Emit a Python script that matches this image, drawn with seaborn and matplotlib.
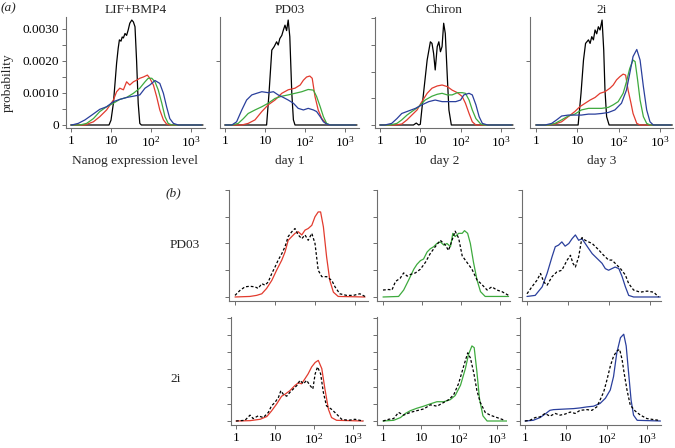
import numpy as np
import pandas as pd
import matplotlib
matplotlib.use("Agg")
import matplotlib.pyplot as plt
import seaborn as sns

# x values are log10(Nanog level), y values in units of 1e-3 (probability)

# ---- (a) LIF+BMP4
lif_black_x = [0, 0.95, 1.0, 1.06, 1.1, 1.14, 1.18, 1.21, 1.25, 1.28, 1.31, 1.35, 1.39, 1.43, 1.47, 1.52, 1.56, 1.6, 1.64, 1.68, 1.72, 1.76, 3.3]
lif_black_y = [0, 0, 0.15, 0.68, 1.3, 1.93, 2.4, 2.66, 2.62, 2.75, 2.72, 2.86, 2.8, 2.97, 3.18, 3.28, 3.22, 3.07, 2.0, 0.68, 0.05, 0, 0]
lif_red_x = [0, 0.35, 0.56, 0.72, 0.89, 1.06, 1.14, 1.22, 1.31, 1.39, 1.47, 1.56, 1.64, 1.72, 1.81, 1.91, 1.97, 2.06, 2.14, 2.22, 2.31, 2.39, 2.47, 3.27]
lif_red_y = [0, 0, 0.1, 0.26, 0.47, 0.78, 1.04, 1.15, 1.1, 1.35, 1.25, 1.35, 1.4, 1.46, 1.5, 1.56, 1.46, 1.25, 0.89, 0.47, 0.16, 0.03, 0, 0]
lif_green_x = [0, 0.22, 0.39, 0.56, 0.72, 0.89, 1.06, 1.22, 1.39, 1.56, 1.72, 1.85, 1.93, 2.02, 2.1, 2.18, 2.27, 2.35, 2.43, 2.52, 3.27]
lif_green_y = [0, 0, 0.05, 0.2, 0.42, 0.57, 0.68, 0.8, 0.86, 0.99, 1.15, 1.35, 1.46, 1.46, 1.35, 1.1, 0.68, 0.26, 0.05, 0, 0]
lif_blue_x = [0, 0.02, 0.18, 0.35, 0.52, 0.72, 0.89, 1.06, 1.22, 1.39, 1.56, 1.72, 1.85, 1.97, 2.1, 2.22, 2.31, 2.39, 2.47, 2.56, 2.68, 3.27]
lif_blue_y = [0, 0, 0.05, 0.16, 0.31, 0.49, 0.57, 0.73, 0.8, 0.86, 0.9, 0.94, 1.15, 1.25, 1.39, 1.3, 0.99, 0.57, 0.2, 0.05, 0, 0]

# ---- (a) PD03
pd_black_x = [0, 1.04, 1.1, 1.17, 1.23, 1.29, 1.33, 1.37, 1.42, 1.46, 1.5, 1.54, 1.58, 1.62, 1.67, 1.71, 1.75, 3.3]
pd_black_y = [0, 0, 0.99, 2.34, 2.45, 2.6, 2.5, 2.7, 2.8, 2.97, 3.12, 2.95, 3.28, 2.76, 0.99, 0.16, 0, 0]
pd_red_x = [0, 0.42, 0.58, 0.75, 0.92, 1.08, 1.25, 1.42, 1.58, 1.75, 1.88, 1.96, 2.04, 2.12, 2.18, 2.25, 2.33, 2.42, 2.54, 2.63, 3.27]
pd_red_y = [0, 0, 0.05, 0.16, 0.42, 0.63, 0.78, 0.99, 1.1, 1.15, 1.25, 1.4, 1.5, 1.53, 1.46, 0.89, 0.47, 0.2, 0.03, 0, 0]
pd_green_x = [0, 0.17, 0.33, 0.46, 0.58, 0.75, 0.92, 1.08, 1.25, 1.42, 1.58, 1.75, 1.92, 2.08, 2.21, 2.29, 2.38, 2.46, 2.54, 2.63, 3.27]
pd_green_y = [0, 0, 0.05, 0.2, 0.36, 0.47, 0.57, 0.68, 0.83, 0.9, 0.94, 0.99, 1.04, 1.11, 1.09, 0.89, 0.57, 0.26, 0.05, 0, 0]
pd_blue_x = [0, 0.17, 0.29, 0.42, 0.54, 0.67, 0.79, 0.92, 1.08, 1.21, 1.33, 1.46, 1.58, 1.71, 1.83, 1.96, 2.08, 2.21, 2.29, 2.38, 2.46, 2.54, 2.63, 3.27]
pd_blue_y = [0, 0, 0.1, 0.47, 0.78, 0.94, 0.99, 1.04, 1.01, 1.04, 0.94, 0.86, 0.78, 0.68, 0.52, 0.47, 0.52, 0.47, 0.42, 0.26, 0.1, 0.03, 0, 0]

# ---- (a) Chiron
chir_black_x = [0, 0.83, 0.9, 0.96, 1.0, 1.08, 1.17, 1.25, 1.29, 1.33, 1.37, 1.42, 1.46, 1.5, 1.54, 1.58, 1.62, 1.67, 1.71, 1.77, 3.3]
chir_black_y = [0, 0, 0.06, 0, 0.02, 0.99, 2.03, 2.6, 2.55, 2.24, 1.72, 2.45, 2.6, 2.29, 2.45, 3.18, 2.86, 1.51, 0.47, 0, 0]
chir_red_x = [0, 0.38, 0.54, 0.67, 0.79, 0.92, 1.04, 1.17, 1.29, 1.42, 1.54, 1.67, 1.79, 1.92, 2.04, 2.12, 2.21, 2.29, 2.38, 3.27]
chir_red_y = [0, 0, 0.03, 0.16, 0.31, 0.47, 0.73, 0.99, 1.15, 1.22, 1.25, 1.2, 1.09, 1.01, 0.89, 0.68, 0.36, 0.1, 0, 0]
chir_green_x = [0, 0.25, 0.42, 0.54, 0.67, 0.79, 0.96, 1.12, 1.29, 1.42, 1.54, 1.67, 1.79, 1.92, 2.04, 2.12, 2.21, 2.29, 2.38, 2.5, 2.58, 3.27]
chir_green_y = [0, 0, 0.05, 0.16, 0.31, 0.42, 0.57, 0.78, 0.9, 0.96, 0.99, 0.94, 0.94, 1.01, 1.01, 0.99, 0.78, 0.47, 0.2, 0.03, 0, 0]
chir_blue_x = [0, 0.12, 0.29, 0.42, 0.54, 0.71, 0.88, 1.04, 1.21, 1.37, 1.54, 1.71, 1.88, 2.0, 2.08, 2.21, 2.29, 2.38, 2.46, 2.54, 2.67, 3.27]
chir_blue_y = [0, 0, 0.05, 0.2, 0.36, 0.44, 0.52, 0.63, 0.73, 0.78, 0.73, 0.73, 0.73, 0.78, 0.94, 0.99, 0.94, 0.63, 0.26, 0.05, 0, 0]

# ---- (a) 2i
two_black_x = [0, 1.02, 1.09, 1.15, 1.2, 1.27, 1.31, 1.35, 1.39, 1.43, 1.47, 1.51, 1.55, 1.6, 1.64, 1.67, 1.71, 1.77, 3.3]
two_black_y = [0, 0, 0.99, 2.03, 2.55, 2.66, 2.55, 2.76, 2.66, 2.97, 2.85, 3.07, 2.97, 3.28, 2.34, 1.09, 0.26, 0, 0]
two_red_x = [0, 0.3, 0.46, 0.62, 0.78, 0.94, 1.06, 1.19, 1.31, 1.43, 1.55, 1.67, 1.79, 1.87, 1.95, 2.03, 2.11, 2.17, 2.23, 2.3, 2.35, 2.44, 2.52, 3.27]
two_red_y = [0, 0, 0.03, 0.1, 0.26, 0.42, 0.57, 0.68, 0.78, 0.86, 0.99, 1.04, 1.15, 1.25, 1.41, 1.51, 1.59, 1.56, 1.09, 0.68, 0.36, 0.05, 0, 0]
two_green_x = [0, 0.3, 0.46, 0.62, 0.78, 0.94, 1.1, 1.27, 1.43, 1.59, 1.75, 1.87, 1.99, 2.11, 2.19, 2.27, 2.35, 2.4, 2.46, 2.52, 2.6, 2.68, 2.76, 3.27]
two_green_y = [0, 0, 0.05, 0.16, 0.28, 0.34, 0.47, 0.52, 0.52, 0.52, 0.55, 0.63, 0.73, 0.99, 1.35, 1.77, 2.03, 1.98, 1.41, 0.78, 0.26, 0.05, 0, 0]
two_blue_x = [0, 0.22, 0.38, 0.5, 0.62, 0.78, 0.94, 1.1, 1.27, 1.43, 1.59, 1.75, 1.91, 2.07, 2.19, 2.27, 2.35, 2.44, 2.52, 2.6, 2.68, 2.76, 2.84, 3.27]
two_blue_y = [0, 0, 0.05, 0.16, 0.28, 0.31, 0.31, 0.31, 0.34, 0.34, 0.36, 0.39, 0.47, 0.68, 1.09, 1.61, 2.14, 2.36, 2.03, 1.2, 0.47, 0.1, 0, 0]

# ---- (b) PD03 row: measured (solid) vs model (dashed)
b_pd1_x = [0, 0.37, 0.54, 0.67, 0.79, 0.92, 1.04, 1.17, 1.25, 1.33, 1.42, 1.5, 1.58, 1.67, 1.75, 1.83, 1.92, 2.0, 2.08, 2.14, 2.21, 2.29, 2.37, 2.46, 2.58, 3.25]
b_pd1_y = [0, 0.01, 0.03, 0.06, 0.16, 0.31, 0.5, 0.69, 0.84, 1.06, 1.13, 1.19, 1.22, 1.16, 1.25, 1.28, 1.34, 1.5, 1.59, 1.59, 1.31, 0.75, 0.31, 0.09, 0.01, 0]
b_pd1_mx = [0, 0.12, 0.25, 0.37, 0.5, 0.58, 0.67, 0.75, 0.83, 0.92, 1.0, 1.08, 1.17, 1.25, 1.33, 1.42, 1.5, 1.58, 1.67, 1.75, 1.83, 1.92, 2.0, 2.08, 2.17, 2.29, 2.42, 2.5, 2.62, 2.79, 2.96, 3.12, 3.25]
b_pd1_my = [0.03, 0.12, 0.19, 0.2, 0.19, 0.16, 0.25, 0.22, 0.28, 0.44, 0.56, 0.69, 0.81, 0.94, 1.13, 1.22, 1.28, 1.16, 1.09, 1.16, 1.06, 1.19, 1.0, 0.5, 0.38, 0.38, 0.31, 0.19, 0.06, 0.03, 0.03, 0.06, 0.01]
b_pd2_x = [0, 0.4, 0.53, 0.66, 0.79, 0.87, 0.96, 1.04, 1.13, 1.21, 1.3, 1.38, 1.47, 1.56, 1.64, 1.73, 1.79, 1.85, 1.94, 2.03, 2.09, 2.17, 2.24, 2.32, 2.41, 2.5, 2.62, 3.22]
b_pd2_y = [0, 0.01, 0.13, 0.32, 0.52, 0.61, 0.68, 0.71, 0.84, 0.9, 0.94, 1.0, 1.03, 0.97, 1.0, 0.94, 1.19, 1.13, 1.19, 1.19, 1.24, 1.19, 1.0, 0.65, 0.32, 0.1, 0.01, 0.01]
b_pd2_mx = [0, 0.15, 0.23, 0.32, 0.44, 0.53, 0.62, 0.7, 0.83, 0.96, 1.09, 1.21, 1.34, 1.47, 1.6, 1.68, 1.77, 1.85, 1.94, 2.03, 2.15, 2.28, 2.41, 2.54, 2.67, 2.79, 2.92, 3.05, 3.22]
b_pd2_my = [0.13, 0.14, 0.13, 0.29, 0.35, 0.45, 0.39, 0.42, 0.45, 0.52, 0.65, 0.81, 0.94, 1.06, 0.97, 0.87, 1.06, 1.23, 1.1, 0.77, 0.65, 0.52, 0.32, 0.23, 0.13, 0.19, 0.13, 0.1, 0.03]
b_pd3_x = [0, 0.2, 0.37, 0.49, 0.61, 0.69, 0.77, 0.85, 0.93, 1.02, 1.1, 1.18, 1.26, 1.34, 1.42, 1.5, 1.59, 1.67, 1.75, 1.83, 1.91, 1.99, 2.07, 2.15, 2.24, 2.32, 2.4, 2.48, 2.6, 3.25]
b_pd3_y = [0.01, 0.03, 0.19, 0.44, 0.75, 0.94, 0.97, 1.03, 0.95, 1.0, 1.09, 1.16, 1.06, 1.09, 1.0, 0.91, 0.81, 0.75, 0.69, 0.63, 0.53, 0.5, 0.53, 0.56, 0.53, 0.38, 0.19, 0.03, 0, 0]
b_pd3_mx = [0, 0.12, 0.24, 0.33, 0.41, 0.49, 0.61, 0.73, 0.85, 0.98, 1.06, 1.12, 1.18, 1.26, 1.34, 1.42, 1.5, 1.59, 1.67, 1.75, 1.83, 1.91, 1.99, 2.07, 2.15, 2.28, 2.4, 2.48, 2.6, 2.76, 2.93, 3.09, 3.21]
b_pd3_my = [0.06, 0.19, 0.31, 0.44, 0.28, 0.22, 0.38, 0.47, 0.5, 0.69, 0.78, 0.63, 0.56, 0.75, 1.11, 1.06, 1.03, 1.0, 0.94, 0.88, 0.81, 0.75, 0.69, 0.69, 0.63, 0.53, 0.41, 0.25, 0.13, 0.09, 0.11, 0.09, 0]

# ---- (b) 2i row
b_2i1_x = [0, 0.36, 0.62, 0.79, 0.91, 1.04, 1.17, 1.26, 1.38, 1.51, 1.6, 1.68, 1.77, 1.85, 1.94, 2.03, 2.11, 2.2, 2.28, 2.37, 2.45, 2.58, 3.26]
b_2i1_y = [0, 0.01, 0.05, 0.13, 0.29, 0.49, 0.72, 0.78, 0.88, 1.03, 1.11, 1.08, 1.23, 1.37, 1.57, 1.7, 1.76, 1.52, 0.93, 0.34, 0.1, 0.02, 0]
b_2i1_mx = [0, 0.23, 0.36, 0.44, 0.57, 0.7, 0.83, 0.91, 1.0, 1.09, 1.15, 1.21, 1.3, 1.38, 1.47, 1.56, 1.64, 1.73, 1.81, 1.9, 1.97, 2.03, 2.09, 2.17, 2.24, 2.32, 2.45, 2.58, 2.71, 2.88, 3.05, 3.26]
b_2i1_my = [0, 0.02, 0.17, 0.07, 0.15, 0.1, 0.25, 0.44, 0.54, 0.69, 0.88, 0.78, 0.72, 0.83, 0.93, 1.03, 1.18, 1.08, 1.18, 1.03, 0.93, 1.37, 1.57, 1.37, 0.83, 0.44, 0.34, 0.2, 0.05, 0.02, 0.05, 0]
b_2i2_x = [0, 0.28, 0.46, 0.59, 0.72, 0.89, 1.07, 1.25, 1.42, 1.6, 1.77, 1.9, 2.04, 2.17, 2.25, 2.34, 2.4, 2.47, 2.54, 2.63, 2.74, 3.26]
b_2i2_y = [0, 0.02, 0.1, 0.22, 0.3, 0.37, 0.43, 0.5, 0.56, 0.56, 0.62, 0.74, 1.04, 1.53, 1.93, 2.18, 2.13, 1.44, 0.64, 0.15, 0, 0]
b_2i2_mx = [0, 0.15, 0.28, 0.41, 0.54, 0.72, 0.89, 1.07, 1.25, 1.42, 1.6, 1.73, 1.86, 1.99, 2.12, 2.23, 2.3, 2.39, 2.47, 2.56, 2.69, 2.82, 3.0, 3.18]
b_2i2_my = [0, 0.05, 0.07, 0.25, 0.17, 0.25, 0.3, 0.35, 0.47, 0.43, 0.54, 0.62, 0.76, 1.09, 1.58, 1.98, 1.83, 1.39, 0.89, 0.54, 0.25, 0.17, 0.1, 0.03]
b_2i3_x = [0, 0.2, 0.37, 0.49, 0.61, 0.7, 0.86, 1.02, 1.19, 1.35, 1.52, 1.68, 1.84, 1.97, 2.09, 2.17, 2.25, 2.34, 2.42, 2.48, 2.54, 2.6, 2.66, 2.75, 3.32]
b_2i3_y = [0, 0.02, 0.1, 0.2, 0.31, 0.33, 0.34, 0.35, 0.36, 0.38, 0.41, 0.43, 0.51, 0.66, 0.9, 1.29, 1.98, 2.42, 2.52, 2.18, 1.39, 0.61, 0.17, 0.02, 0]
b_2i3_mx = [0, 0.12, 0.25, 0.37, 0.49, 0.61, 0.74, 0.86, 0.98, 1.11, 1.23, 1.35, 1.52, 1.64, 1.76, 1.84, 1.93, 2.01, 2.09, 2.17, 2.25, 2.32, 2.38, 2.43, 2.5, 2.58, 2.7, 2.83, 2.99, 3.16, 3.28]
b_2i3_my = [0, 0.02, 0.1, 0.12, 0.22, 0.14, 0.22, 0.17, 0.2, 0.26, 0.22, 0.31, 0.33, 0.31, 0.41, 0.61, 0.85, 1.2, 1.59, 1.88, 2.03, 2.08, 1.78, 1.39, 0.9, 0.46, 0.29, 0.17, 0.07, 0.04, 0.02]

titles = ["LIF+BMP4", "PD03", "Chiron", "2i"]
xlabels = ["Nanog expression level", "day 1", "day 2", "day 3"]
xtick_vals = [1, 10, 100, 1000]
xtick_text = ["1", "10", "$10^2$", "$10^3$"]

sns.set_theme(style="ticks")
plt.rcParams["font.family"] = ["Liberation Serif", "DejaVu Serif"]
plt.rcParams["mathtext.fontset"] = "custom"
plt.rcParams["mathtext.rm"] = "Liberation Serif"
plt.rcParams["mathtext.it"] = "Liberation Serif:italic"

RED = "#e23b2e"
GREEN = "#3eaa3e"
BLUE = "#2a3f9c"
GREY = "#6e6e6e"
FS = 9.6

W, H = 675, 448
fig = plt.figure(figsize=(W / 100, H / 100), dpi=100)
fig.patch.set_facecolor("white")


def make_axes(left, right, top, bottom, tick1, decade, ylim):
    ax = fig.add_axes([left / W, 1 - bottom / H, (right - left) / W, (bottom - top) / H])
    ax.set_facecolor("white")
    ax.set_xscale("log")
    ax.set_xlim(10 ** ((left - tick1) / decade), 10 ** ((right - tick1) / decade))
    ax.set_ylim(ylim)
    for s in ["top", "right"]:
        ax.spines[s].set_visible(False)
    for s in ["left", "bottom"]:
        ax.spines[s].set_color(GREY)
        ax.spines[s].set_linewidth(0.8)
    ax.tick_params(direction="out", length=3, width=0.7, color=GREY, labelsize=FS,
                   labelcolor="black", pad=2)
    ax.minorticks_off()
    ax.set_xticks(xtick_vals)
    ax.set_xticklabels(xtick_text)
    return ax


def draw(ax, lx, ly, color, dashed=False):
    frame = pd.DataFrame({"x": np.power(10.0, lx), "y": np.asarray(ly) * 1e-3})
    extra = {"linestyle": (0, (2.2, 1.6))} if dashed else {}
    sns.lineplot(data=frame, x="x", y="y", color=color, linewidth=0.9, ax=ax,
                 estimator=None, sort=False, **extra)
    ax.set_xlabel("")
    ax.set_ylabel("")


# ---------------- row (a)
top_specs = [(66, 205, 71, 40), (220, 359, 225, 40), (375, 514, 380, 40.3), (530, 673, 536, 41.3)]
top_data = [
    [(lif_black_x, lif_black_y), (lif_red_x, lif_red_y), (lif_green_x, lif_green_y), (lif_blue_x, lif_blue_y)],
    [(pd_black_x, pd_black_y), (pd_red_x, pd_red_y), (pd_green_x, pd_green_y), (pd_blue_x, pd_blue_y)],
    [(chir_black_x, chir_black_y), (chir_red_x, chir_red_y), (chir_green_x, chir_green_y), (chir_blue_x, chir_blue_y)],
    [(two_black_x, two_black_y), (two_red_x, two_red_y), (two_green_x, two_green_y), (two_blue_x, two_blue_y)],
]
for i, (left, right, tick1, dec) in enumerate(top_specs):
    ax = make_axes(left, right, 17, 128, tick1, dec, (-0.094e-3, 3.375e-3))
    for (cx, cy), col in zip(top_data[i], ["black", RED, GREEN, BLUE]):
        draw(ax, cx, cy, col)
    ax.set_title(titles[i], fontsize=FS, pad=3)
    ax.set_xlabel(xlabels[i], fontsize=FS, labelpad=4)
    if i == 0:
        ax.set_yticks([0, 0.5e-3, 1e-3, 1.5e-3, 2e-3, 2.5e-3, 3e-3])
        ax.set_yticklabels(["0", "", "0.0010", "", "0.0020", "", "0.0030"])
    elif i == 2:
        ax.set_yticks([0, 0.833e-3, 1.667e-3, 2.5e-3, 3.333e-3])
        ax.set_yticklabels([])
    else:
        ax.set_yticks([2e-3])
        ax.set_yticklabels([])

# ---------------- row (b)
row1_specs = [(229, 368, 235, 40), (377, 510, 383, 39), (522, 661, 527, 41)]
row2_specs = [(231, 365, 236, 39), (377, 507, 383, 38), (520, 661, 525, 40.8)]
row1_data = [(b_pd1_x, b_pd1_y, b_pd1_mx, b_pd1_my), (b_pd2_x, b_pd2_y, b_pd2_mx, b_pd2_my),
             (b_pd3_x, b_pd3_y, b_pd3_mx, b_pd3_my)]
row2_data = [(b_2i1_x, b_2i1_y, b_2i1_mx, b_2i1_my), (b_2i2_x, b_2i2_y, b_2i2_mx, b_2i2_my),
             (b_2i3_x, b_2i3_y, b_2i3_mx, b_2i3_my)]
colours = [RED, GREEN, BLUE]

for j, (left, right, tick1, dec) in enumerate(row1_specs):
    ax = make_axes(left, right, 190, 301, tick1, dec, (-0.075e-3, 2.0e-3))
    sx, sy, mx, my = row1_data[j]
    draw(ax, sx, sy, colours[j])
    draw(ax, mx, my, "black", dashed=True)
    ax.set_xticklabels([])
    ax.set_yticks([0, 0.5e-3, 1e-3, 1.5e-3, 2e-3])
    ax.set_yticklabels([])

for j, (left, right, tick1, dec) in enumerate(row2_specs):
    ax = make_axes(left, right, 317, 425, tick1, dec, (-0.116e-3, 3.02e-3))
    sx, sy, mx, my = row2_data[j]
    draw(ax, sx, sy, colours[j])
    draw(ax, mx, my, "black", dashed=True)
    ax.set_yticks([0, 0.5e-3, 1e-3, 1.5e-3, 2e-3, 2.5e-3, 3e-3])
    ax.set_yticklabels([])

fig.text(8 / W, 1 - 8 / H, "(a)", style="italic", fontsize=FS, ha="center", va="center")
fig.text(8 / W, 1 - 83 / H, "probability", rotation=90, fontsize=FS, ha="center", va="center")
fig.text(173 / W, 1 - 193 / H, "(b)", style="italic", fontsize=FS, ha="center", va="center")
fig.text(185 / W, 1 - 245 / H, "PD03", fontsize=FS, ha="center", va="center")
fig.text(176 / W, 1 - 379 / H, "2i", fontsize=FS, ha="center", va="center")

fig.savefig("out.png", dpi=100)
